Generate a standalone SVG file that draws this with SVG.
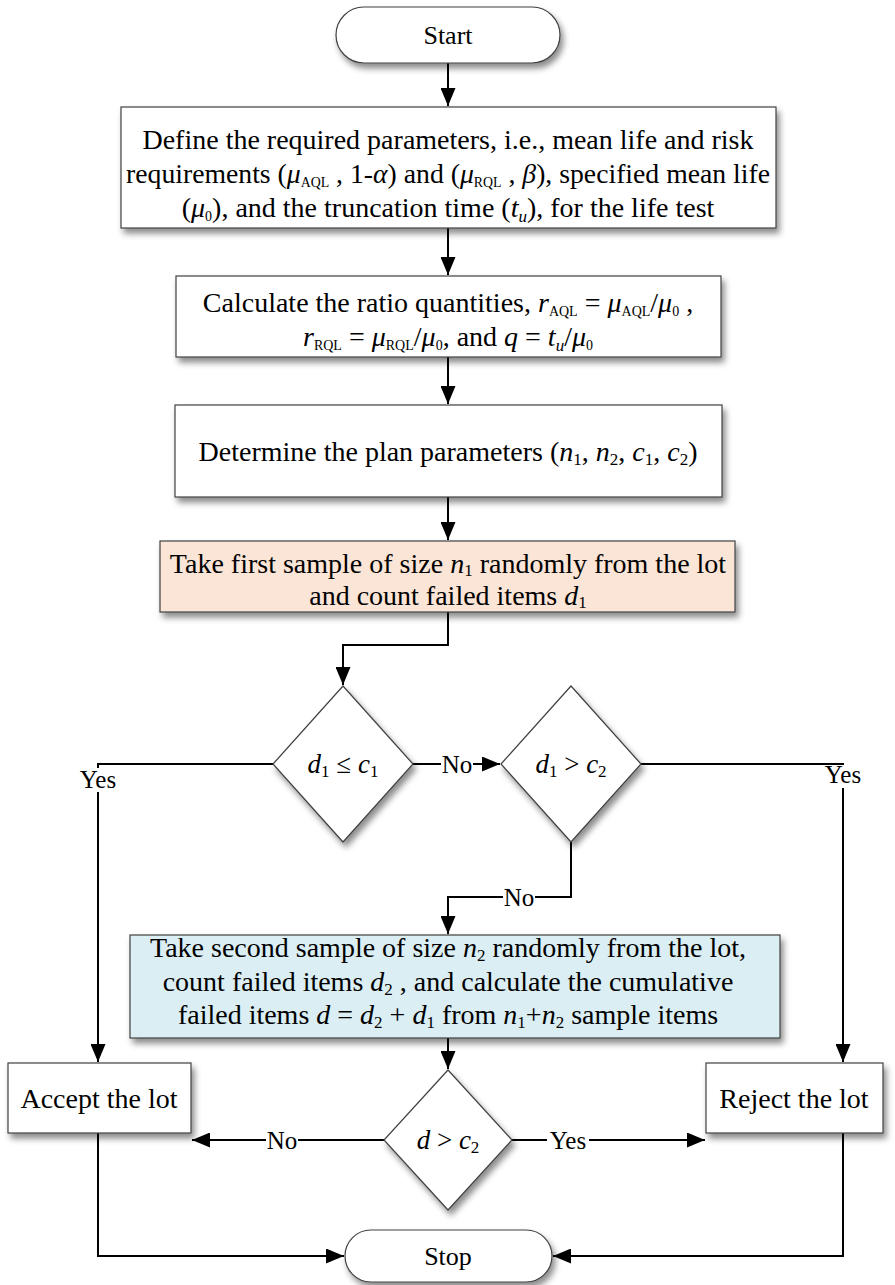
<svg xmlns="http://www.w3.org/2000/svg" width="895" height="1285" viewBox="0 0 895 1285">
<defs>
<filter id="sh" x="-10%" y="-10%" width="130%" height="140%">
<feDropShadow dx="3" dy="5" stdDeviation="3" flood-color="#000" flood-opacity="0.45"/>
</filter>
<marker id="ah" viewBox="0 0 12 10" refX="12" refY="5" markerWidth="9" markerHeight="7.5" markerUnits="strokeWidth" orient="auto">
<path d="M0,0 L12,5 L0,10 z" fill="#000"/>
</marker>
</defs>
<style>
text{font-family:"Liberation Serif","Times New Roman",serif;font-size:28px;fill:#000;text-anchor:middle}
.i{font-style:italic}
.s{font-size:17px}
.sc{font-size:14px}
.box{stroke:#404040;stroke-width:1.2}
.w{fill:#fff}
.c{fill:none;stroke:#000;stroke-width:2}
.a{marker-end:url(#ah)}
.lbl{font-size:25px}
.dt{font-size:27px}
.term{font-size:26px}
</style>
<rect width="895" height="1285" fill="#fff"/>

<g id="connectors">
<path class="c a" d="M448,63 V106"/>
<path class="c a" d="M448,228 V275"/>
<path class="c a" d="M448,357 V404"/>
<path class="c a" d="M448,497 V540"/>
<path class="c a" d="M448,612 V645 H343 V685"/>
<path class="c" d="M413,764 H441"/>
<path class="c a" d="M473,764 H500"/>
<text class="lbl" x="457" y="773">No</text>
<path class="c" d="M273,764 H98 V768"/>
<path class="c a" d="M98,792 V1062"/>
<text class="lbl" x="98" y="788">Yes</text>
<path class="c" d="M641,764 H843 V763"/>
<path class="c a" d="M843,788 V1062"/>
<text class="lbl" x="843" y="783">Yes</text>
<path class="c" d="M571,842 V897 H535"/>
<path class="c a" d="M503,897 H448 V934"/>
<text class="lbl" x="519" y="906">No</text>
<path class="c" d="M385,1140 H298"/>
<path class="c a" d="M266,1140 H192"/>
<text class="lbl" x="282" y="1149">No</text>
<path class="c" d="M512,1140 H547"/>
<path class="c a" d="M589,1140 H705"/>
<text class="lbl" x="568" y="1149">Yes</text>
<path class="c a" d="M448,1038 V1069"/>
<path class="c a" d="M98,1133 V1256 H344"/>
<path class="c a" d="M843,1133 V1256 H553"/>
</g>

<g id="start">
<rect class="box w" x="336" y="7" width="224" height="56" rx="28" filter="url(#sh)"/>
<text class="term" x="448" y="44">Start</text>
</g>

<g id="define">
<rect class="box w" x="121" y="107" width="655" height="121" filter="url(#sh)"/>
<text x="448" y="149">Define the required parameters, i.e., mean life and risk</text>
<text x="448" y="183" textLength="644" lengthAdjust="spacingAndGlyphs">requirements (<tspan class="i">μ</tspan><tspan class="sc" dy="4">AQL</tspan><tspan dy="-4"> , 1-</tspan><tspan class="i">α</tspan>) and (<tspan class="i">μ</tspan><tspan class="sc" dy="4">RQL</tspan><tspan dy="-4"> , </tspan><tspan class="i">β</tspan>), specified mean life</text>
<text x="448" y="217">(<tspan class="i">μ</tspan><tspan class="sc" dy="4">0</tspan><tspan dy="-4">), and the truncation time (</tspan><tspan class="i">t</tspan><tspan class="s i" dy="5">u</tspan><tspan dy="-5">), for the life test</tspan></text>
</g>

<g id="calc">
<rect class="box w" x="176" y="276" width="545" height="81" filter="url(#sh)"/>
<text x="448" y="312">Calculate the ratio quantities,  <tspan class="i">r</tspan><tspan class="sc" dy="4">AQL</tspan><tspan dy="-4"> = </tspan><tspan class="i">μ</tspan><tspan class="sc" dy="4">AQL</tspan><tspan dy="-4">/</tspan><tspan class="i">μ</tspan><tspan class="sc" dy="4">0</tspan><tspan dy="-4"> ,</tspan></text>
<text x="448" y="346"><tspan class="i">r</tspan><tspan class="sc" dy="4">RQL</tspan><tspan dy="-4"> = </tspan><tspan class="i">μ</tspan><tspan class="sc" dy="4">RQL</tspan><tspan dy="-4">/</tspan><tspan class="i">μ</tspan><tspan class="sc" dy="4">0</tspan><tspan dy="-4">, and </tspan><tspan class="i">q</tspan> = <tspan class="i">t</tspan><tspan class="s i" dy="5">u</tspan><tspan dy="-5">/</tspan><tspan class="i">μ</tspan><tspan class="sc" dy="4">0</tspan></text>
</g>

<g id="determine">
<rect class="box w" x="175" y="405" width="547" height="92" filter="url(#sh)"/>
<text x="448" y="461">Determine the plan parameters (<tspan class="i">n</tspan><tspan class="s" dy="4">1</tspan><tspan dy="-4">, </tspan><tspan class="i">n</tspan><tspan class="s" dy="4">2</tspan><tspan dy="-4">, </tspan><tspan class="i">c</tspan><tspan class="s" dy="4">1</tspan><tspan dy="-4">, </tspan><tspan class="i">c</tspan><tspan class="s" dy="4">2</tspan><tspan dy="-4">)</tspan></text>
</g>

<g id="first-sample">
<rect class="box" x="160" y="541" width="575" height="71" fill="#FBE5D6" filter="url(#sh)"/>
<text x="448" y="573">Take first sample of size <tspan class="i">n</tspan><tspan class="s" dy="3">1</tspan><tspan dy="-3"> randomly from the lot</tspan></text>
<text x="448" y="605">and count failed items <tspan class="i">d</tspan><tspan class="s" dy="3">1</tspan></text>
</g>

<g id="dec1">
<polygon class="box w" points="343,686 413,764 343,842 273,764" filter="url(#sh)"/>
<text class="dt" x="343" y="773"><tspan class="i">d</tspan><tspan class="s" dy="4">1</tspan><tspan dy="-4"> ≤ </tspan><tspan class="i">c</tspan><tspan class="s" dy="4">1</tspan></text>
</g>

<g id="dec2">
<polygon class="box w" points="571,686 641,764 571,842 501,764" filter="url(#sh)"/>
<text class="dt" x="571" y="773"><tspan class="i">d</tspan><tspan class="s" dy="4">1</tspan><tspan dy="-4"> &gt; </tspan><tspan class="i">c</tspan><tspan class="s" dy="4">2</tspan></text>
</g>

<g id="second-sample">
<rect class="box" x="130" y="935" width="650" height="103" fill="#DAEEF3" filter="url(#sh)"/>
<text x="448" y="957">Take second sample of size <tspan class="i">n</tspan><tspan class="s" dy="4">2</tspan><tspan dy="-4"> randomly from the lot,</tspan></text>
<text x="448" y="991">count failed items <tspan class="i">d</tspan><tspan class="s" dy="4">2</tspan><tspan dy="-4"> , and calculate the cumulative</tspan></text>
<text x="448" y="1024">failed items <tspan class="i">d</tspan> = <tspan class="i">d</tspan><tspan class="s" dy="4">2</tspan><tspan dy="-4"> + </tspan><tspan class="i">d</tspan><tspan class="s" dy="4">1</tspan><tspan dy="-4"> from </tspan><tspan class="i">n</tspan><tspan class="s" dy="4">1</tspan><tspan dy="-4">+</tspan><tspan class="i">n</tspan><tspan class="s" dy="4">2</tspan><tspan dy="-4"> sample items</tspan></text>
</g>

<g id="dec3">
<polygon class="box w" points="448,1070 512,1140 448,1210 384,1140" filter="url(#sh)"/>
<text class="dt" x="448" y="1149"><tspan class="i">d</tspan> &gt; <tspan class="i">c</tspan><tspan class="s" dy="4">2</tspan></text>
</g>

<g id="accept">
<rect class="box w" x="8" y="1063" width="183" height="70" filter="url(#sh)"/>
<text x="99" y="1108" font-size="27">Accept the lot</text>
</g>

<g id="reject">
<rect class="box w" x="706" y="1063" width="177" height="70" filter="url(#sh)"/>
<text x="794" y="1108" font-size="27">Reject the lot</text>
</g>

<g id="stop">
<rect class="box w" x="345" y="1230" width="207" height="52" rx="26" filter="url(#sh)"/>
<text class="term" x="448" y="1265">Stop</text>
</g>
</svg>
